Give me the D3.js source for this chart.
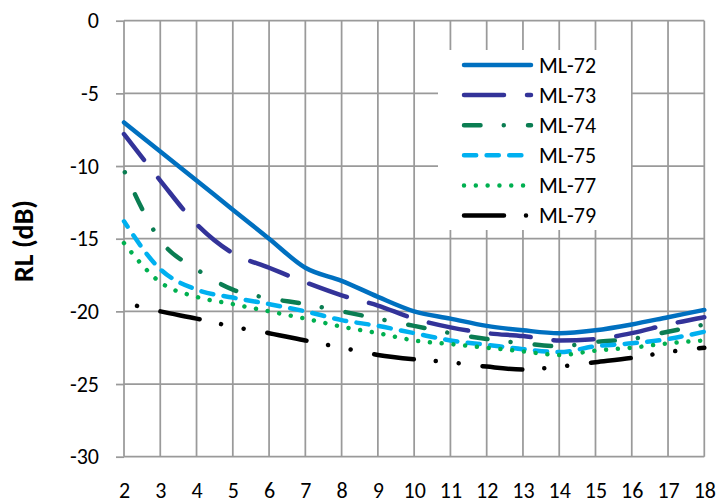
<!DOCTYPE html>
<html>
<head>
<meta charset="utf-8">
<script src="https://cdn.jsdelivr.net/npm/d3@7"></script>
<style>
  body { margin: 0; background: #fff; }
  #wrapper { width: 717px; height: 504px; }
</style>
</head>
<body>
<div id="wrapper"></div>
<script>
// data
const freq = [2, 3, 4, 5, 6, 7, 8, 9, 10, 11, 12, 13, 14, 15, 16, 17, 18];
const seriesNames = ["ML-72", "ML-73", "ML-74", "ML-75", "ML-77", "ML-79"];
const ml72 = [-7, -9, -11, -13, -15, -17, -17.9, -19, -20, -20.5, -21, -21.3, -21.5, -21.3, -20.9, -20.4, -19.9];
const ml73 = [-7.8, -11, -14, -16, -17, -18, -18.9, -19.6, -20.5, -21.1, -21.5, -21.7, -22, -21.9, -21.5, -20.9, -20.4];
const ml74 = [-10.3, -15.1, -17.1, -18.5, -19.1, -19.5, -20, -20.5, -21, -21.5, -21.9, -22.2, -22.4, -22.1, -21.9, -21.4, -20.9];
const ml75 = [-13.8, -17.1, -18.5, -19.05, -19.5, -20, -20.6, -21, -21.5, -22, -22.3, -22.6, -22.8, -22.4, -22.2, -21.9, -21.4];
const ml77 = [-15.3, -18, -19, -19.5, -20, -20.5, -21.05, -21.5, -22, -22.25, -22.5, -22.75, -23, -22.7, -22.5, -22.2, -22];
const ml79 = [-19.4, -20, -20.5, -21.05, -21.5, -22, -22.5, -23, -23.3, -23.5, -23.8, -24, -23.8, -23.5, -23.2, -22.8, -22.5];
const yTicks = [0, -5, -10, -15, -20, -25, -30];

// line styles (colour, dash pattern, offset at the start of the line)
const styles = [
    { color: "#0070c0", dash: "none", offset: 0 },
    { color: "#333399", dash: "40 23", offset: 7.5 },
    { color: "#0a7d52", dash: "16.5 23.25 0.01 24.25", offset: 37.75 },
    { color: "#00b0f0", dash: "12.2 10.4", offset: 5.7 },
    { color: "#00b050", dash: "0.01 11.8", offset: 0 },
    { color: "#000000", dash: "40 22 0.01 23 0.01 24", offset: 71.6 }
];

function drawChart() {

    const values = [ml72, ml73, ml74, ml75, ml77, ml79];
    const series = seriesNames.map((name, i) => ({
        name,
        style: styles[i],
        points: freq.map((f, j) => ({ x: f, y: values[i][j] }))
    }));

    const xAccessor = d => d.x;
    const yAccessor = d => d.y;

    // chart dimensions
    const dms = {
        width: 717,
        height: 504,
        margins: { top: 20.7, right: 12.7, bottom: 47.3, left: 124 }
    };
    dms.innerWidth = dms.width - dms.margins.left - dms.margins.right;
    dms.innerHeight = dms.height - dms.margins.top - dms.margins.bottom;

    const fontFamily = "Carlito, Lato, 'Open Sans', sans-serif";
    const plainNumber = d => String(d);   // keep the plain hyphen minus

    const wrapper = d3.select("#wrapper")
        .append("svg")
            .attr("width", dms.width)
            .attr("height", dms.height);

    const inner = wrapper.append("g")
        .attr("transform", `translate(${dms.margins.left},${dms.margins.top})`);

    // scales
    const xScale = d3.scaleLinear()
        .domain([2, 18])
        .range([0, dms.innerWidth]);

    const yScale = d3.scaleLinear()
        .domain([-30, 0])
        .range([dms.innerHeight, 0]);

    // grid
    const gridColor = "#9a9a9a";
    inner.append("g")
        .selectAll("line")
        .data(freq)
        .join("line")
            .attr("x1", d => xScale(d))
            .attr("x2", d => xScale(d))
            .attr("y1", 0)
            .attr("y2", dms.innerHeight)
            .attr("stroke", gridColor)
            .attr("stroke-width", 1.75);

    inner.append("g")
        .selectAll("line")
        .data(yTicks)
        .join("line")
            .attr("x1", 0)
            .attr("x2", dms.innerWidth)
            .attr("y1", d => yScale(d))
            .attr("y2", d => yScale(d))
            .attr("stroke", gridColor)
            .attr("stroke-width", 1.75);

    // axes
    const yAxisGenerator = d3.axisLeft(yScale)
        .tickValues(yTicks)
        .tickSize(8)
        .tickPadding(17)
        .tickFormat(plainNumber);

    const yAxis = inner.append("g").call(yAxisGenerator);
    yAxis.select(".domain").remove();
    yAxis.selectAll(".tick line")
        .attr("stroke", gridColor)
        .attr("stroke-width", 1.75);
    yAxis.selectAll("text")
        .attr("fill", "#000")
        .style("font-family", fontFamily)
        .style("font-size", "22px");

    const xAxisGenerator = d3.axisBottom(xScale)
        .tickValues(freq)
        .tickSize(0)
        .tickPadding(26)
        .tickFormat(plainNumber);

    const xAxis = inner.append("g")
        .attr("transform", `translate(0,${dms.innerHeight})`)
        .call(xAxisGenerator);
    xAxis.select(".domain").remove();
    xAxis.selectAll("text")
        .attr("fill", "#000")
        .style("font-family", fontFamily)
        .style("font-size", "22px");

    // y axis title
    wrapper.append("text")
        .attr("transform", `translate(33,241) rotate(-90)`)
        .attr("text-anchor", "middle")
        .style("font-family", fontFamily)
        .style("font-size", "28px")
        .style("font-weight", "bold")
        .text("RL (dB)");

    // lines
    const lineGenerator = d3.line()
        .x(d => xScale(xAccessor(d)))
        .y(d => yScale(yAccessor(d)))
        .curve(d3.curveMonotoneX);

    inner.append("g")
        .selectAll("path")
        .data(series)
        .join("path")
            .attr("d", d => lineGenerator(d.points))
            .attr("fill", "none")
            .attr("stroke", d => d.style.color)
            .attr("stroke-width", 4.5)
            .attr("stroke-linecap", "round")
            .attr("stroke-linejoin", "round")
            .attr("stroke-dasharray", d => d.style.dash)
            .attr("stroke-dashoffset", d => d.style.offset);

    // legend
    const legend = wrapper.append("g");

    legend.append("rect")
        .attr("x", 438)
        .attr("y", 50)
        .attr("width", 193)
        .attr("height", 180)
        .attr("fill", "#fff");

    const items = legend.selectAll("g")
        .data(series)
        .join("g")
            .attr("transform", (d, i) => `translate(464,${65 + i * 30.1})`);

    items.append("line")
        .attr("x1", 0)
        .attr("x2", 67)
        .attr("stroke", d => d.style.color)
        .attr("stroke-width", 4.5)
        .attr("stroke-linecap", "round")
        .attr("stroke-dasharray", d => d.style.dash);

    items.append("text")
        .attr("x", 75)
        .attr("dy", "0.36em")
        .style("font-family", fontFamily)
        .style("font-size", "22px")
        .text(d => d.name);
}

drawChart();
</script>
</body>
</html>
